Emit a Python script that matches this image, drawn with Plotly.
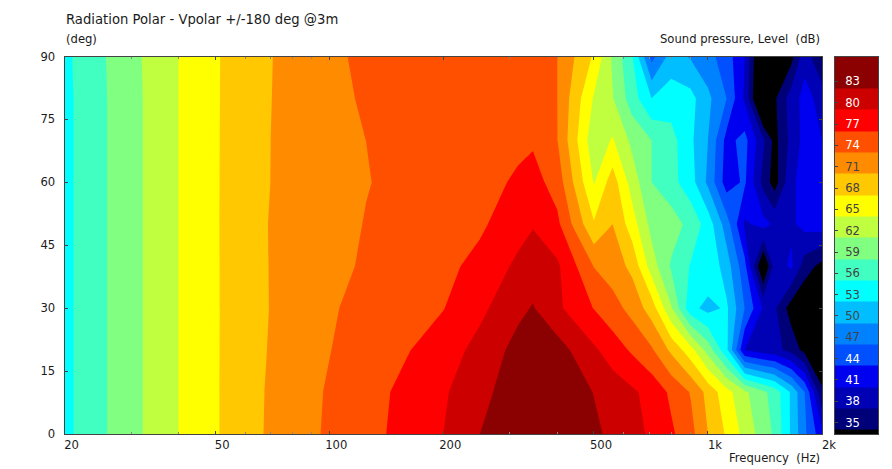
import plotly.graph_objects as go

freqs = [20,25,31.5,40,50,63,80,100,125,160,200,250,315,345,400,500,560,630,710,800,900,1000,1120,1250,1400,1500,1660,1800,2000]
angles = [0,10,20,30,40,50,60,70,80,90]
deg0  = [54.2,57.5,60.7,64,66.7,69.4,71.7,73.4,75,77,79,82,84.2,84.7,85,82.6,81.3,80,78.5,76.5,74,70,66.6,63,59.5,57.5,51.5,46.6,41]
deg10 = [54.2,57.5,60.7,64,66.7,69.4,71.5,73.3,74.8,76.8,78.6,81.2,83.5,84.7,84.5,81.9,80.7,79.5,78,75.4,72.8,69,65.1,61.6,58.6,56.8,51.5,46,34.5]
deg20 = [54.2,57.5,60.7,64,66.7,69.3,71.3,72.9,74.6,75.8,77.5,80,83,84,83.3,79.5,77.5,75.6,73.4,69.4,65.2,59.8,52.8,40,38.5,38,36,33,31]
deg30 = [54.2,57.5,60.7,64,66.7,69.2,71.2,72.7,73.8,74.9,75.9,78.3,81.3,82.2,79.6,75.9,74.2,72,68.6,61.3,53,51,52.5,46,39.7,37.5,32.5,31,31]
deg40 = [54.2,57.5,60.7,64,66.7,69.3,71.1,72.3,73.3,74.3,75.2,76.9,79.6,80.5,79.5,72.9,71.5,69.3,62.5,57.6,54.8,54.5,50.5,44,30,38.5,40.5,35.5,33]
deg50 = [54.2,57.5,60.7,64,66.7,69.4,71,72.1,73.1,73.9,74.5,75.5,77.9,78.8,76.7,67.3,70,65.5,60,59.5,57,53.7,47.5,39.5,41,39.5,39.5,41,41.5]
deg60 = [54.2,57.5,60.7,64,66.7,69.3,70.9,72,72.9,73.6,74.1,75,76.4,77.2,74.7,63.8,68.5,62.7,58,56,53.3,48.4,41.5,43.5,36,32.5,39.5,41,41]
deg70 = [54.2,57.5,60.7,64,66.7,69.2,71,72.2,73,73.7,74.3,74.9,75.4,75.6,73.1,62,64.3,60.3,58,56.1,52.6,49,42,44,37.5,33,38,41,40]
deg80 = [54.2,57.5,60.7,64,66.7,69.1,71,72.3,73.3,74,74.6,75,75.4,75.3,73,63.7,61.2,56.5,52,53.5,53,49.7,46,39.5,27,33.5,38.5,41,39]
deg90 = [54.3,57.6,60.8,64,66.7,69,71,72.4,73.6,74.4,74.9,75.2,75.3,75,73,66.6,60.5,55.3,45,50.3,48.7,47,44.5,40,28,29,33,39,33.5]
levels_z = [deg0,deg10,deg20,deg30,deg40,deg50,deg60,deg70,deg80,deg90]

x_tickvals = [20,50,100,200,500,1000,2000]
x_ticktext = ["20","50","100","200","500","1k","2k"]
x_minor = [30,40,60,70,80,90,300,400,600,700,800,900]
y_ticks = [0,15,30,45,60,75,90]
cb_ticks = [35,38,41,44,47,50,53,56,59,62,65,68,71,74,77,80,83]
cb_dark = [47,50,53,56,59,62,65,68,71]

band_colors = ["#000000","#000078","#0000b4","#0000f0","#0050ff","#0082ff","#00beff","#00ffff","#40ffc0",
               "#80ff80","#c0ff40","#ffff00","#ffc800","#ff8c00","#ff5000","#ff0000","#cd0000","#8b0000"]
cb_edges = [33.4,34,37,40,43,46,49,52,55,58,61,64,67,70,73,76,79,82,86.5]

OFF = 8
W,H = 892-OFF,469-OFF
def fx(p): return (p-OFF)/W
def fy(p): return 1-(p-OFF)/H
n = len(band_colors)
scale = [[i/(n-1),c] for i,c in enumerate(band_colors)]

fig = go.Figure()
fig.add_trace(go.Contour(x=freqs,y=angles,z=levels_z,colorscale=scale,showscale=False,
    contours=dict(start=34,end=82,size=3,coloring="fill",showlines=False),
    line=dict(width=0,smoothing=0),hoverinfo="x+y+z",xaxis="x",yaxis="y"))
fig.add_trace(go.Heatmap(x=[0,1],y=cb_edges,z=[[i] for i in range(n)],zmin=0,zmax=n-1,
    colorscale=scale,showscale=False,xaxis="x2",yaxis="y2",hoverinfo="skip"))

fam = "DejaVu Sans, Verdana, sans-serif"
font = dict(family=fam,size=11.6,color="#1a1a1a")
axc = "#444444"
fig.update_layout(width=W,height=H,autosize=False,margin=dict(l=0,r=0,t=0,b=0,pad=0,autoexpand=False),
    paper_bgcolor="white",plot_bgcolor="white",font=font,showlegend=False,
    xaxis=dict(type="log",range=[1.30103,3.30103],domain=[fx(64.5),fx(822)],anchor="y",automargin=False,
        tickmode="array",tickvals=x_tickvals,ticktext=x_ticktext,ticks="inside",ticklen=3,tickcolor=axc,
        ticklabelshift=7,ticklabeloverflow="allow",
        minor=dict(tickmode="array",tickvals=x_minor,ticks="inside",ticklen=2,tickcolor="#888888"),
        showgrid=False,zeroline=False,showline=True,linecolor=axc,linewidth=1,mirror="ticks"),
    yaxis=dict(range=[0,90],domain=[fy(434),fy(56.5)],anchor="x",automargin=False,tickmode="array",tickvals=y_ticks,
        ticks="inside",ticklen=3,tickcolor=axc,showgrid=False,zeroline=False,showline=True,
        linecolor=axc,linewidth=1,mirror="ticks",ticklabelstandoff=6),
    xaxis2=dict(range=[0,1],domain=[fx(834.5),fx(878)],anchor="y2",automargin=False,showticklabels=False,ticks="",showgrid=False,
        zeroline=False,showline=True,linecolor=axc,linewidth=1,mirror=True),
    yaxis2=dict(range=[33.4,86.5],domain=[fy(434),fy(56.5)],anchor="x2",automargin=False,side="left",tickmode="array",
        tickvals=cb_ticks,
        ticktext=[(f"{t}" if t in cb_dark else f'<span style="color:white">{t}</span>') for t in cb_ticks],
        ticks="inside",ticklen=3,tickcolor=axc,ticklabelposition="inside",ticklabelstandoff=7,
        showgrid=False,zeroline=False,showline=True,linecolor=axc,linewidth=1,mirror=True),
    annotations=[
        dict(text="Radiation Polar - Vpolar +/-180 deg @3m",x=fx(64),y=fy(20),xref="paper",yref="paper",xanchor="left",yanchor="middle",showarrow=False,font=dict(size=13.2,family=fam,color="#1a1a1a")),
        dict(text="(deg)",x=fx(64),y=fy(39),xref="paper",yref="paper",xanchor="left",yanchor="middle",showarrow=False),
        dict(text="Sound pressure, Level  (dB)",x=fx(822),y=fy(39),xref="paper",yref="paper",xanchor="right",yanchor="middle",showarrow=False),
        dict(text="Frequency  (Hz)",x=fx(822),y=fy(458),xref="paper",yref="paper",xanchor="right",yanchor="middle",showarrow=False),
    ])
fig.write_html("out.html")
